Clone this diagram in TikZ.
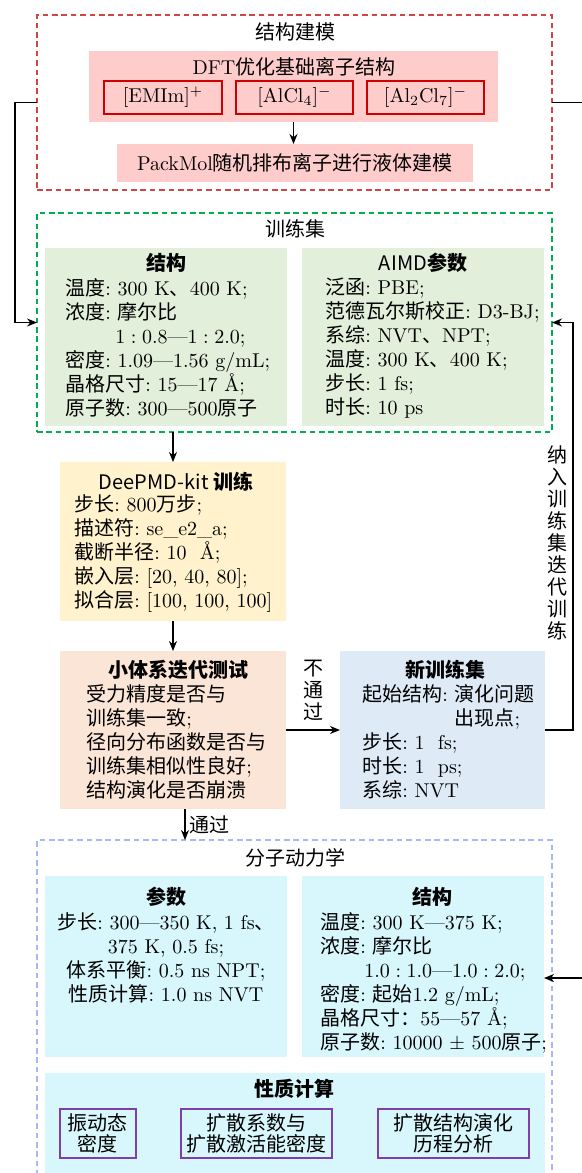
\documentclass[tikz,border=0pt]{standalone}
\usepackage{fontspec}
\usetikzlibrary{arrows.meta,fit,calc}
\newfontfamily\cjk{Noto Sans CJK SC}
\let\cjkextra\relax
\XeTeXinterchartokenstate=1
\newXeTeXintercharclass\cjkcls
\makeatletter
\def\setcjkrange#1#2{\count@=#1\relax
  \loop\XeTeXcharclass\count@=\cjkcls\relax
  \ifnum\count@<#2\relax\advance\count@\@ne\repeat}
\makeatother
\setcjkrange{"3000}{"303F}
\setcjkrange{"4E00}{"9FFF}
\setcjkrange{"FF00}{"FFEF}
\XeTeXinterchartoks 0 \cjkcls = {\begingroup\cjk\cjkextra}
\XeTeXinterchartoks 4095 \cjkcls = {\begingroup\cjk\cjkextra}
\XeTeXinterchartoks \cjkcls 0 = {\endgroup}
\XeTeXinterchartoks \cjkcls 4095 = {\endgroup}
\newcommand\ttlfont{\cjk\def\cjkextra{\bfseries}}
\frenchspacing
\definecolor{smred}{HTML}{D04545}
\definecolor{pinkfill}{HTML}{FFCCCC}
\definecolor{ionred}{HTML}{D00000}
\definecolor{tsgreen}{HTML}{00B050}
\definecolor{greenfill}{HTML}{E2EFDA}
\definecolor{yellowfill}{HTML}{FFF2CC}
\definecolor{peachfill}{HTML}{FBE5D6}
\definecolor{bluefill}{HTML}{DEEBF7}
\definecolor{mdblue}{HTML}{A6B8F5}
\definecolor{cyanfill}{HTML}{D7F7FC}
\definecolor{purp}{HTML}{7F3FA8}
\begin{document}
\frenchspacing
\begin{tikzpicture}[x=0.5pt,y=-0.5pt,
  conn/.style={line width=0.6pt, draw=black},
  arr/.style={conn, -{Stealth[length=5pt,width=4pt]}},
  area/.style={rectangle, inner sep=0pt, outer sep=0pt, draw=none},
  dbox/.style={area, line width=0.6pt, dash pattern=on 2.8pt off 1.9pt},
  hdr/.style={font=\cjk, inner sep=0pt},
  ttl/.style={font=\ttlfont, inner sep=0pt},
  txt/.style={inner sep=0pt},
  body/.style={align=left, inner sep=0pt, anchor=north west},
  ion/.style={draw=ionred, line width=0.7pt, inner sep=0pt, minimum height=16.5pt},
  pbox/.style={draw=purp, line width=0.7pt, inner sep=0pt, minimum height=24.5pt, align=center, font=\fontsize{10}{10.5}\selectfont},
  vlab/.style={align=center, inner sep=0pt, font=\fontsize{10}{11}\selectfont}]
\useasboundingbox (0,0) rectangle (582,1173);
\coordinate (offR) at (600,0);
% ---------- structure modelling
\node[dbox, draw=smred, fit={(37,15) (552,190)}] (sm) {};
\node[hdr] (smt) at (295,32) {结构建模};
\node[area, fill=pinkfill, fit={(89,51) (498,122)}] (dft) {};
\node[txt] (dftt) at (294,67) {DFT优化基础离子结构};
\node[ion, minimum width=59pt] (emim) at (163,97.5) {[EMIm]$^+$};
\node[ion, minimum width=58.5pt] (alcl) at (294.5,97.5) {[AlCl$_4$]$^-$};
\node[ion, minimum width=58.5pt] (alcls) at (425.5,97.5) {[Al$_2$Cl$_7$]$^-$};
\node[area, fill=pinkfill, fit={(117,144) (473,182)}] (pack) {};
\node[txt] (packt) at (295,163) {PackMol随机排布离子进行液体建模};
\draw[arr] (dft.south) -- (dft.south |- pack.north);
% ---------- training set
\node[dbox, draw=tsgreen, fit={(37,213) (552,432)}] (ts) {};
\node[hdr] (tst) at (295,229) {训练集};
\node[area, fill=greenfill, fit={(45,248) (287,426)}] (tsl) {};
\node[area, fill=greenfill, fit={(302,248) (544,426)}] (tsr) {};
\node[ttl] (tslt) at (166,263) {结构};
\node[ttl] (tsrt) at (423,263) {AIMD参数};
\node[body] (tslb) at (65,278) {温度: 300 K、400 K;\\
浓度: 摩尔比\\
\hspace*{25pt}$1:0.8$—$1:2.0$;\\
密度: 1.09—1.56 g/mL;\\
晶格尺寸: 15—17 Å;\\
原子数: 300—500原子};
\node[body] (tsrb) at (325,278) {泛函: PBE;\\
范德瓦尔斯校正: D3-BJ;\\
系综: NVT、NPT;\\
温度: 300 K、400 K;\\
步长: 1 fs;\\
时长: 10 ps};
% ---------- DeePMD
\node[area, fill=yellowfill, fit={(60,462) (286,621)}] (deep) {};
\node[ttl] (deept) at (176,482) {DeePMD-kit 训练};
\node[body] (deepb) at (74,494) {步长: 800万步;\\
描述符: se\_e2\_a;\\
截断半径: 10~ Å;\\
嵌入层: [20, 40, 80];\\
拟合层: [100, 100, 100]};
% ---------- test
\node[area, fill=peachfill, fit={(60,651) (286,809)}] (test) {};
\node[ttl] (testt) at (178,670) {小体系迭代测试};
\node[body] (testb) at (86,684) {受力精度是否与\\
训练集一致;\\
径向分布函数是否与\\
训练集相似性良好;\\
结构演化是否崩溃};
% ---------- new set
\node[area, fill=bluefill, fit={(340,651) (545,809)}] (newset) {};
\node[ttl] (newt) at (445,670) {新训练集};
\node[body] (newb) at (362,684) {起始结构: 演化问题\\
\hphantom{起始结构: }出现点;\\
步长: 1~ fs;\\
时长: 1~ ps;\\
系综: NVT};
% ---------- MD
\node[dbox, draw=mdblue, fit={(37,840) (552,1200)}] (md) {};
\node[hdr] (mdt) at (295,858) {分子动力学};
\node[area, fill=cyanfill, fit={(45,876) (287,1057)}] (mdl) {};
\node[area, fill=cyanfill, fit={(302,876) (544,1057)}] (mdr) {};
\node[ttl] (mdlt) at (166,897) {参数};
\node[ttl] (mdrt) at (432,897) {结构};
\node[align=center, inner sep=0pt, anchor=north] (mdlb) at (166,912) {步长: 300—350 K, 1 fs、\\
375 K, 0.5 fs;\\
体系平衡: 0.5 ns NPT;\\
性质计算: 1.0 ns NVT};
\node[body] (mdrb) at (320,912) {温度: 300 K—375 K;\\
浓度: 摩尔比\\
\hspace*{22pt}$1.0:1.0$—$1.0:2.0$;\\
密度: 起始1.2 g/mL;\\
晶格尺寸：55—57 Å;\\
原子数: 10000 $\pm$ 500原子;};
\node[area, fill=cyanfill, fit={(45,1073) (545,1200)}] (prop) {};
\node[ttl] (propt) at (294,1089) {性质计算};
\node[pbox, minimum width=38pt] (p1) at (98,1133.5) {振动态\\密度};
\node[pbox, minimum width=75.5pt] (p2) at (256.5,1133.5) {扩散系数与\\扩散激活能密度};
\node[pbox, minimum width=75.5pt] (p3) at (453.5,1133.5) {扩散结构演化\\历程分析};
% ---------- connectors
\draw[arr] (sm.west) -- ++(-22,0) |- (ts.west);
\draw[conn] (sm.east) -- (sm.east -| offR);
\draw[arr] (ts.south -| deep.north) -- (deep.north);
\draw[arr] (deep.south) -- (test.north);
\draw[arr] (test.east) -- (newset.west);
\node[vlab] (nopass) at (313,690) {不\\通\\过};
\draw[arr] (newset.east) -- ++(28,0) |- (ts.east);
\node[vlab] (iterlab) at (557,543) {纳\\入\\训\\练\\集\\迭\\代\\训\\练};
\draw[arr] ([xshift=6pt]test.south) -- ([xshift=6pt]test.south |- md.north);
\node[txt, anchor=west] (pass) at (189,825) {通过};
\coordinate (mdin) at (600,978);
\draw[arr] (mdin) -- (mdin -| mdr.east);
\end{tikzpicture}
\end{document}
